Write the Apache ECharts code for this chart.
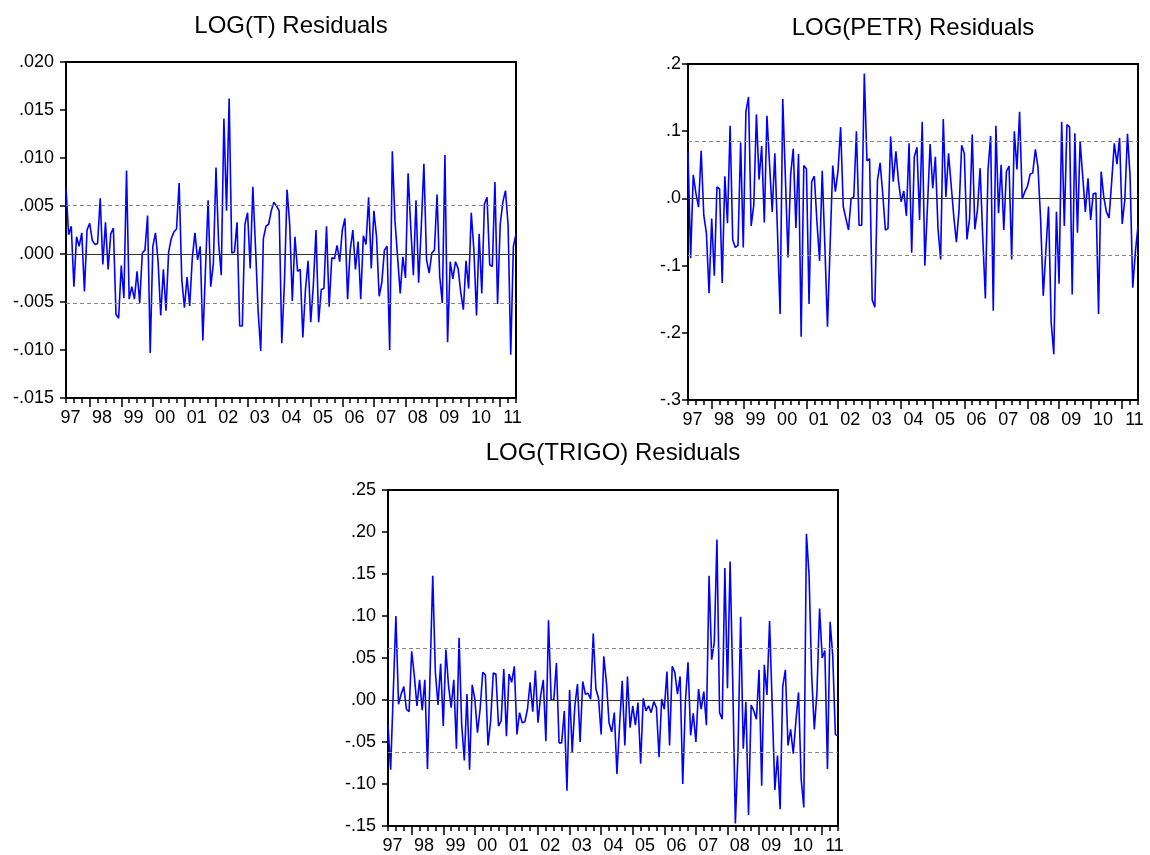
<!DOCTYPE html>
<html>
<head>
<meta charset="utf-8">
<title>Residuals</title>
<script src="https://cdn.jsdelivr.net/npm/echarts@6/dist/echarts.min.js"></script>
<style>
  html, body { margin: 0; padding: 0; background: #fff; }
  #chart { width: 1150px; height: 855px; }
</style>
</head>
<body>
<div id="chart"></div>
<script>
// monthly sample 1997M04 - 2011M07
const startYear = 1997;
const startMonth = 4;
const nObs = 172;

const residT = [
  0.0069, 0.0020, 0.0029, -0.0034, 0.0018, 0.0008, 0.0022, -0.0039, 0.0025, 0.0032,
  0.0014, 0.0010, 0.0011, 0.0058, -0.0011, 0.0033, -0.0016, 0.0021, 0.0027, -0.0063,
  -0.0067, -0.0012, -0.0046, 0.0087, -0.0047, -0.0034, -0.0047, -0.0018, -0.0051, 0.0001,
  0.0004, 0.0040, -0.0103, 0.0008, 0.0022, -0.0008, -0.0064, -0.0016, -0.0059, 0.0002,
  0.0016, 0.0023, 0.0026, 0.0074, -0.0027, -0.0056, -0.0024, -0.0054, -0.0004, 0.0022,
  -0.0006, 0.0008, -0.0090, -0.0016, 0.0056, -0.0034, -0.0010, 0.0090, 0.0011, -0.0022,
  0.0141, 0.0045, 0.0162, 0.0001, 0.0002, 0.0033, -0.0075, -0.0075, 0.0031, 0.0043,
  -0.0015, 0.0070, 0.0008, -0.0059, -0.0101, 0.0016, 0.0029, 0.0031, 0.0045, 0.0054,
  0.0050, 0.0045, -0.0093, -0.0030, 0.0067, 0.0031, -0.0049, 0.0018, -0.0018, -0.0016,
  -0.0087, -0.0037, -0.0007, -0.0071, -0.0032, 0.0025, -0.0071, -0.0037, -0.0036, 0.0029,
  -0.0055, -0.0004, -0.0005, 0.0009, -0.0008, 0.0025, 0.0037, -0.0047, 0.0004, 0.0025,
  -0.0016, 0.0013, -0.0047, 0.0019, 0.0010, 0.0059, -0.0015, 0.0045, 0.0018, -0.0044,
  -0.0030, 0.0004, 0.0008, -0.0100, 0.0107, 0.0035, -0.0003, -0.0041, -0.0003, -0.0025,
  0.0084, 0.0028, -0.0022, 0.0056, -0.0030, 0.0028, 0.0094, -0.0006, -0.0020, 0.0001,
  0.0004, 0.0062, -0.0023, -0.0051, 0.0103, -0.0092, -0.0008, -0.0026, -0.0008, -0.0015,
  -0.0040, -0.0058, -0.0007, -0.0036, 0.0043, 0.0004, -0.0064, 0.0021, -0.0041, 0.0052,
  0.0059, -0.0011, -0.0013, 0.0075, -0.0052, 0.0031, 0.0054, 0.0066, 0.0030, -0.0105,
  0.0008, 0.0021
];

const residPetr = [
  0.069, -0.089, 0.035, 0.008, -0.013, 0.071, -0.025, -0.052, -0.141, -0.030,
  -0.115, 0.017, 0.014, -0.126, 0.033, -0.037, 0.108, -0.062, -0.073, -0.070,
  0.083, -0.073, 0.129, 0.151, -0.041, -0.010, 0.125, 0.028, 0.078, -0.036,
  0.123, 0.050, -0.020, 0.067, -0.050, -0.172, 0.148, 0.032, -0.088, 0.035,
  0.074, -0.044, 0.066, -0.206, 0.049, 0.044, -0.157, 0.025, 0.033, -0.035,
  -0.093, 0.041, -0.070, -0.191, -0.070, 0.049, 0.010, 0.041, 0.106, -0.012,
  -0.030, -0.047, 0.000, 0.002, 0.100, -0.040, -0.040, 0.186, 0.056, 0.059,
  -0.151, -0.162, 0.027, 0.053, 0.007, -0.047, -0.045, 0.092, 0.025, 0.070,
  0.025, -0.005, 0.011, -0.026, 0.082, -0.081, 0.062, 0.076, -0.032, 0.114,
  -0.100, -0.012, 0.081, 0.015, 0.062, -0.045, -0.091, 0.118, 0.002, 0.067,
  0.020, -0.027, -0.065, -0.017, 0.079, 0.067, -0.061, -0.030, 0.095, -0.046,
  -0.017, 0.045, -0.057, -0.149, 0.042, 0.093, -0.167, 0.108, -0.022, 0.050,
  -0.047, 0.040, 0.048, -0.091, 0.100, 0.043, 0.129, -0.001, 0.010, 0.018,
  0.036, 0.038, 0.073, 0.046, -0.032, -0.145, -0.077, -0.012, -0.184, -0.232,
  -0.020, -0.127, 0.114, -0.041, 0.110, 0.106, -0.143, 0.097, -0.051, 0.085,
  0.032, -0.020, 0.030, -0.032, 0.007, 0.008, -0.172, 0.040, 0.002, -0.020,
  -0.029, 0.025, 0.082, 0.051, 0.090, -0.038, -0.002, 0.096, 0.032, -0.133,
  -0.080, -0.041
];

const residTrigo = [
  -0.029, -0.083, 0.009, 0.100, -0.005, 0.007, 0.016, -0.011, -0.014, 0.058,
  0.029, -0.007, 0.024, -0.012, 0.024, -0.082, 0.033, 0.148, 0.033, -0.006,
  0.043, -0.031, 0.060, 0.017, -0.009, 0.024, -0.058, 0.074, -0.029, -0.072,
  0.007, -0.083, 0.018, 0.001, -0.039, -0.011, 0.033, 0.030, -0.054, -0.025,
  0.032, 0.031, -0.031, -0.025, 0.037, -0.043, 0.031, 0.021, 0.040, -0.041,
  -0.015, -0.027, -0.026, -0.011, 0.021, -0.014, 0.035, -0.027, 0.005, 0.024,
  -0.049, 0.095, 0.000, 0.000, 0.044, -0.051, -0.051, -0.013, -0.108, 0.012,
  -0.062, -0.007, 0.019, -0.050, 0.022, 0.007, 0.008, 0.001, 0.079, 0.013,
  0.002, -0.041, 0.052, 0.021, -0.027, -0.038, -0.015, -0.088, -0.030, 0.023,
  -0.054, 0.028, -0.033, -0.007, -0.030, -0.003, -0.076, 0.002, -0.013, -0.007,
  -0.015, -0.002, -0.009, -0.068, 0.001, -0.011, 0.034, -0.054, 0.040, 0.033,
  0.007, 0.028, -0.100, -0.003, 0.045, -0.042, -0.016, -0.050, 0.013, -0.011,
  0.010, -0.030, 0.148, 0.048, 0.069, 0.191, -0.015, -0.023, 0.157, 0.014,
  0.165, 0.021, -0.147, -0.062, 0.099, -0.058, -0.002, -0.137, -0.006, -0.013,
  -0.023, 0.036, -0.102, 0.042, 0.006, 0.094, -0.007, -0.107, -0.066, -0.130,
  0.016, 0.036, -0.054, -0.035, -0.064, -0.025, 0.009, -0.094, -0.128, 0.198,
  0.149, 0.029, -0.035, 0.009, 0.109, 0.050, 0.059, -0.082, 0.093, 0.053,
  -0.041, -0.043
];

const titles = ['LOG(T) Residuals', 'LOG(PETR) Residuals', 'LOG(TRIGO) Residuals'];
const seBand = [0.0051, 0.085, 0.062];
const yMin = [-0.015, -0.3, -0.15];
const yMax = [0.020, 0.2, 0.25];
const yStep = [0.005, 0.1, 0.05];
const yDecimals = [3, 1, 2];

// month categories "1997-04" ...
const months = [];
for (let k = 0; k < nObs; k++) {
  const m = startMonth - 1 + k;
  const y = startYear + Math.floor(m / 12);
  const mm = (m % 12) + 1;
  months.push(y + '-' + (mm < 10 ? '0' + mm : mm));
}

// layout of the three panels
const boxes = [
  { left: 66, top: 62, titleTop: 14, labelMargin: 12 },
  { left: 688, top: 64, titleTop: 16.5, labelMargin: 7 },
  { left: 388, top: 490, titleTop: 441.5, labelMargin: 12 }
];
const font = 'Liberation Sans, Arial, sans-serif';

const series = [residT, residPetr, residTrigo];

const grids = [], xAxes = [], yAxes = [], titleList = [], seriesList = [];

boxes.forEach((b, g) => {
  grids.push({
    left: b.left, top: b.top, width: 450, height: 336,
    containLabel: false,
    show: true, borderColor: '#000', borderWidth: 2, backgroundColor: 'transparent'
  });
  titleList.push({
    text: titles[g],
    left: b.left + 225, top: b.titleTop, textAlign: 'center', padding: 0,
    textStyle: { fontFamily: font, fontSize: 24, fontWeight: 'normal', color: '#000' }
  });
  // quarterly ticks + year labels
  xAxes.push({
    type: 'category', gridIndex: g, data: months, boundaryGap: false, position: 'bottom',
    axisLine: { show: true, onZero: false, lineStyle: { color: '#000', width: 2 } },
    axisTick: {
      show: true, length: 5, lineStyle: { color: '#000', width: 1.5 },
      interval: (i, v) => ['01', '04', '07', '10'].indexOf(v.slice(5)) >= 0
    },
    axisLabel: {
      interval: (i, v) => v.slice(5) === '07',
      formatter: v => v.slice(2, 4),
      color: '#000', fontSize: 18, fontFamily: font, margin: 11,
      padding: [0, 7, 0, 0]
    },
    splitLine: { show: false }
  });
  // longer ticks at the start of each year
  xAxes.push({
    type: 'category', gridIndex: g, data: months, boundaryGap: false, position: 'bottom',
    axisLine: { show: false, onZero: false },
    axisTick: {
      show: true, length: 9, lineStyle: { color: '#000', width: 1.5 },
      interval: (i, v) => v.slice(5) === '01'
    },
    axisLabel: { show: false },
    splitLine: { show: false }
  });
  yAxes.push({
    type: 'value', gridIndex: g, min: yMin[g], max: yMax[g], interval: yStep[g],
    axisLine: { show: true, onZero: false, lineStyle: { color: '#000', width: 2 } },
    axisTick: { show: true, length: 6, lineStyle: { color: '#000', width: 1.5 } },
    axisLabel: {
      color: '#000', fontSize: 18, fontFamily: font, margin: b.labelMargin,
      formatter: v => {
        if (Math.abs(v) < 1e-9) v = 0;
        return v.toFixed(yDecimals[g]).replace('0.', '.');
      }
    },
    splitLine: { show: false }
  });
  seriesList.push({
    type: 'line', xAxisIndex: g * 2, yAxisIndex: g,
    data: series[g],
    symbol: 'none', showSymbol: false,
    lineStyle: { color: '#0000ff', width: 1.6 },
    z: 3,
    markLine: {
      silent: true, precision: 6, symbol: ['none', 'none'], label: { show: false }, animation: false,
      data: [
        { yAxis: 0, lineStyle: { type: 'solid', color: '#333', width: 1.2 } },
        { yAxis: seBand[g], lineStyle: { type: [4, 3], color: '#888', width: 1 } },
        { yAxis: -seBand[g], lineStyle: { type: [4, 3], color: '#888', width: 1 } }
      ]
    }
  });
});

const myChart = echarts.init(document.getElementById('chart'));
myChart.setOption({
  animation: false,
  backgroundColor: '#fff',
  title: titleList,
  grid: grids,
  xAxis: xAxes,
  yAxis: yAxes,
  series: seriesList
});
</script>
</body>
</html>
